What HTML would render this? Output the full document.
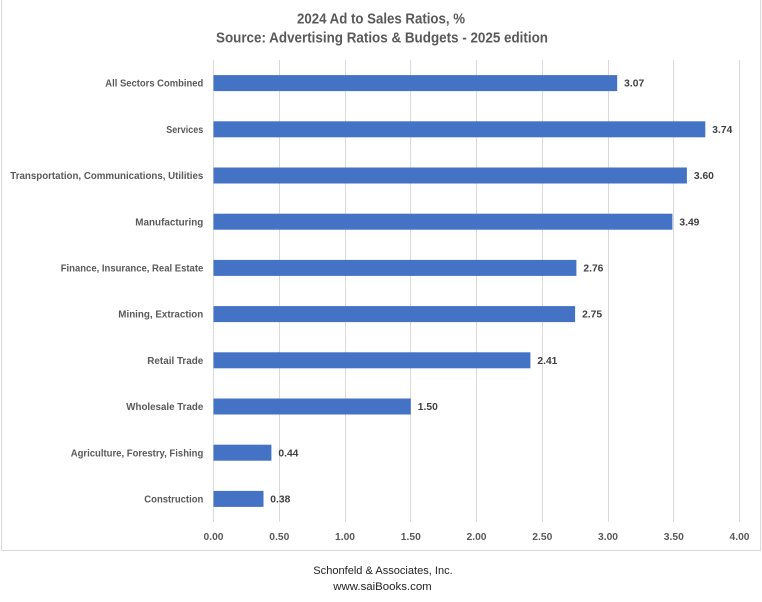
<!DOCTYPE html>
<html>
<head>
<meta charset="utf-8">
<style>
  html,body{margin:0;padding:0;background:#fff;}
  svg{display:block;}
  .cat{font-family:"Liberation Sans",sans-serif;font-weight:bold;font-size:10.5px;fill:#595959;}
  .val{font-family:"Liberation Sans",sans-serif;font-weight:bold;font-size:10px;fill:#404040;}
  .tick{font-family:"Liberation Sans",sans-serif;font-weight:bold;font-size:10px;fill:#595959;}
  .title{font-family:"Liberation Sans",sans-serif;font-weight:bold;font-size:15px;fill:#595959;}
  .foot{font-family:"Liberation Sans",sans-serif;font-size:11px;fill:#222;}
</style>
</head>
<body>
<svg width="762" height="602" viewBox="0 0 762 602" xmlns="http://www.w3.org/2000/svg">
  <rect x="0" y="0" width="762" height="602" fill="#fff"/>
  <!-- chart border -->
  <line x1="1.5" y1="0" x2="1.5" y2="551" stroke="#d9d9d9" stroke-width="1"/>
  <line x1="760.5" y1="0" x2="760.5" y2="551" stroke="#d9d9d9" stroke-width="1"/>
  <line x1="1" y1="550.5" x2="761" y2="550.5" stroke="#d9d9d9" stroke-width="1"/>

  <!-- title -->
  <text class="title" x="297" y="23.3" textLength="168" lengthAdjust="spacingAndGlyphs">2024 Ad to Sales Ratios, %</text>
  <text class="title" x="216" y="42.3" textLength="332" lengthAdjust="spacingAndGlyphs">Source: Advertising Ratios &amp; Budgets - 2025 edition</text>

  <!-- gridlines -->
  <g stroke="#d9d9d9" stroke-width="1">
    <line x1="213.5" y1="60" x2="213.5" y2="522"/>
    <line x1="279.5" y1="60" x2="279.5" y2="522"/>
    <line x1="345.5" y1="60" x2="345.5" y2="522"/>
    <line x1="410.5" y1="60" x2="410.5" y2="522"/>
    <line x1="476.5" y1="60" x2="476.5" y2="522"/>
    <line x1="542.5" y1="60" x2="542.5" y2="522"/>
    <line x1="608.5" y1="60" x2="608.5" y2="522"/>
    <line x1="673.5" y1="60" x2="673.5" y2="522"/>
    <line x1="739.5" y1="60" x2="739.5" y2="522"/>
  </g>

  <!-- bars -->
  <g fill="#4472C4">
    <rect x="213.5" y="75.1" width="403.7" height="16"/>
    <rect x="213.5" y="121.3" width="491.8" height="16"/>
    <rect x="213.5" y="167.5" width="473.4" height="16"/>
    <rect x="213.5" y="213.7" width="458.9" height="16"/>
    <rect x="213.5" y="259.9" width="362.9" height="16"/>
    <rect x="213.5" y="306.1" width="361.6" height="16"/>
    <rect x="213.5" y="352.3" width="316.9" height="16"/>
    <rect x="213.5" y="398.5" width="197.3" height="16"/>
    <rect x="213.5" y="444.7" width="57.9" height="16"/>
    <rect x="213.5" y="490.9" width="50.0" height="16"/>
  </g>

  <!-- category labels -->
  <g class="cat" text-anchor="end">
    <text x="203.3" y="86.7" textLength="98" lengthAdjust="spacingAndGlyphs">All Sectors Combined</text>
    <text x="203.3" y="132.9" textLength="37" lengthAdjust="spacingAndGlyphs">Services</text>
    <text x="203.3" y="179.1" textLength="193" lengthAdjust="spacingAndGlyphs">Transportation, Communications, Utilities</text>
    <text x="203.3" y="225.3" textLength="68" lengthAdjust="spacingAndGlyphs">Manufacturing</text>
    <text x="203.3" y="271.5" textLength="142.6" lengthAdjust="spacingAndGlyphs">Finance, Insurance, Real Estate</text>
    <text x="203.3" y="317.7" textLength="85" lengthAdjust="spacingAndGlyphs">Mining, Extraction</text>
    <text x="203.3" y="363.9" textLength="56" lengthAdjust="spacingAndGlyphs">Retail Trade</text>
    <text x="203.3" y="410.1" textLength="77" lengthAdjust="spacingAndGlyphs">Wholesale Trade</text>
    <text x="203.3" y="456.3" textLength="132.6" lengthAdjust="spacingAndGlyphs">Agriculture, Forestry, Fishing</text>
    <text x="203.3" y="502.5" textLength="59" lengthAdjust="spacingAndGlyphs">Construction</text>
  </g>

  <!-- value labels -->
  <g class="val">
    <text x="624.2" y="86.7" textLength="20" lengthAdjust="spacingAndGlyphs">3.07</text>
    <text x="712.3" y="132.9" textLength="20" lengthAdjust="spacingAndGlyphs">3.74</text>
    <text x="693.9" y="179.1" textLength="20" lengthAdjust="spacingAndGlyphs">3.60</text>
    <text x="679.4" y="225.3" textLength="20" lengthAdjust="spacingAndGlyphs">3.49</text>
    <text x="583.4" y="271.5" textLength="20" lengthAdjust="spacingAndGlyphs">2.76</text>
    <text x="582.1" y="317.7" textLength="20" lengthAdjust="spacingAndGlyphs">2.75</text>
    <text x="537.4" y="363.9" textLength="20" lengthAdjust="spacingAndGlyphs">2.41</text>
    <text x="417.8" y="410.1" textLength="20" lengthAdjust="spacingAndGlyphs">1.50</text>
    <text x="278.4" y="456.3" textLength="20" lengthAdjust="spacingAndGlyphs">0.44</text>
    <text x="270.3" y="502.5" textLength="20" lengthAdjust="spacingAndGlyphs">0.38</text>
  </g>

  <!-- x tick labels -->
  <g class="tick" text-anchor="middle">
    <text x="213.5" y="540" textLength="20" lengthAdjust="spacingAndGlyphs">0.00</text>
    <text x="279.3" y="540" textLength="20" lengthAdjust="spacingAndGlyphs">0.50</text>
    <text x="345" y="540" textLength="20" lengthAdjust="spacingAndGlyphs">1.00</text>
    <text x="410.8" y="540" textLength="20" lengthAdjust="spacingAndGlyphs">1.50</text>
    <text x="476.5" y="540" textLength="20" lengthAdjust="spacingAndGlyphs">2.00</text>
    <text x="542.3" y="540" textLength="20" lengthAdjust="spacingAndGlyphs">2.50</text>
    <text x="608" y="540" textLength="20" lengthAdjust="spacingAndGlyphs">3.00</text>
    <text x="673.8" y="540" textLength="20" lengthAdjust="spacingAndGlyphs">3.50</text>
    <text x="739.5" y="540" textLength="20" lengthAdjust="spacingAndGlyphs">4.00</text>
  </g>

  <!-- footer -->
  <text class="foot" x="313.3" y="574" textLength="139.4" lengthAdjust="spacingAndGlyphs">Schonfeld &amp; Associates, Inc.</text>
  <text class="foot" x="333.3" y="590" textLength="98.4" lengthAdjust="spacingAndGlyphs">www.saiBooks.com</text>
</svg>
</body>
</html>
